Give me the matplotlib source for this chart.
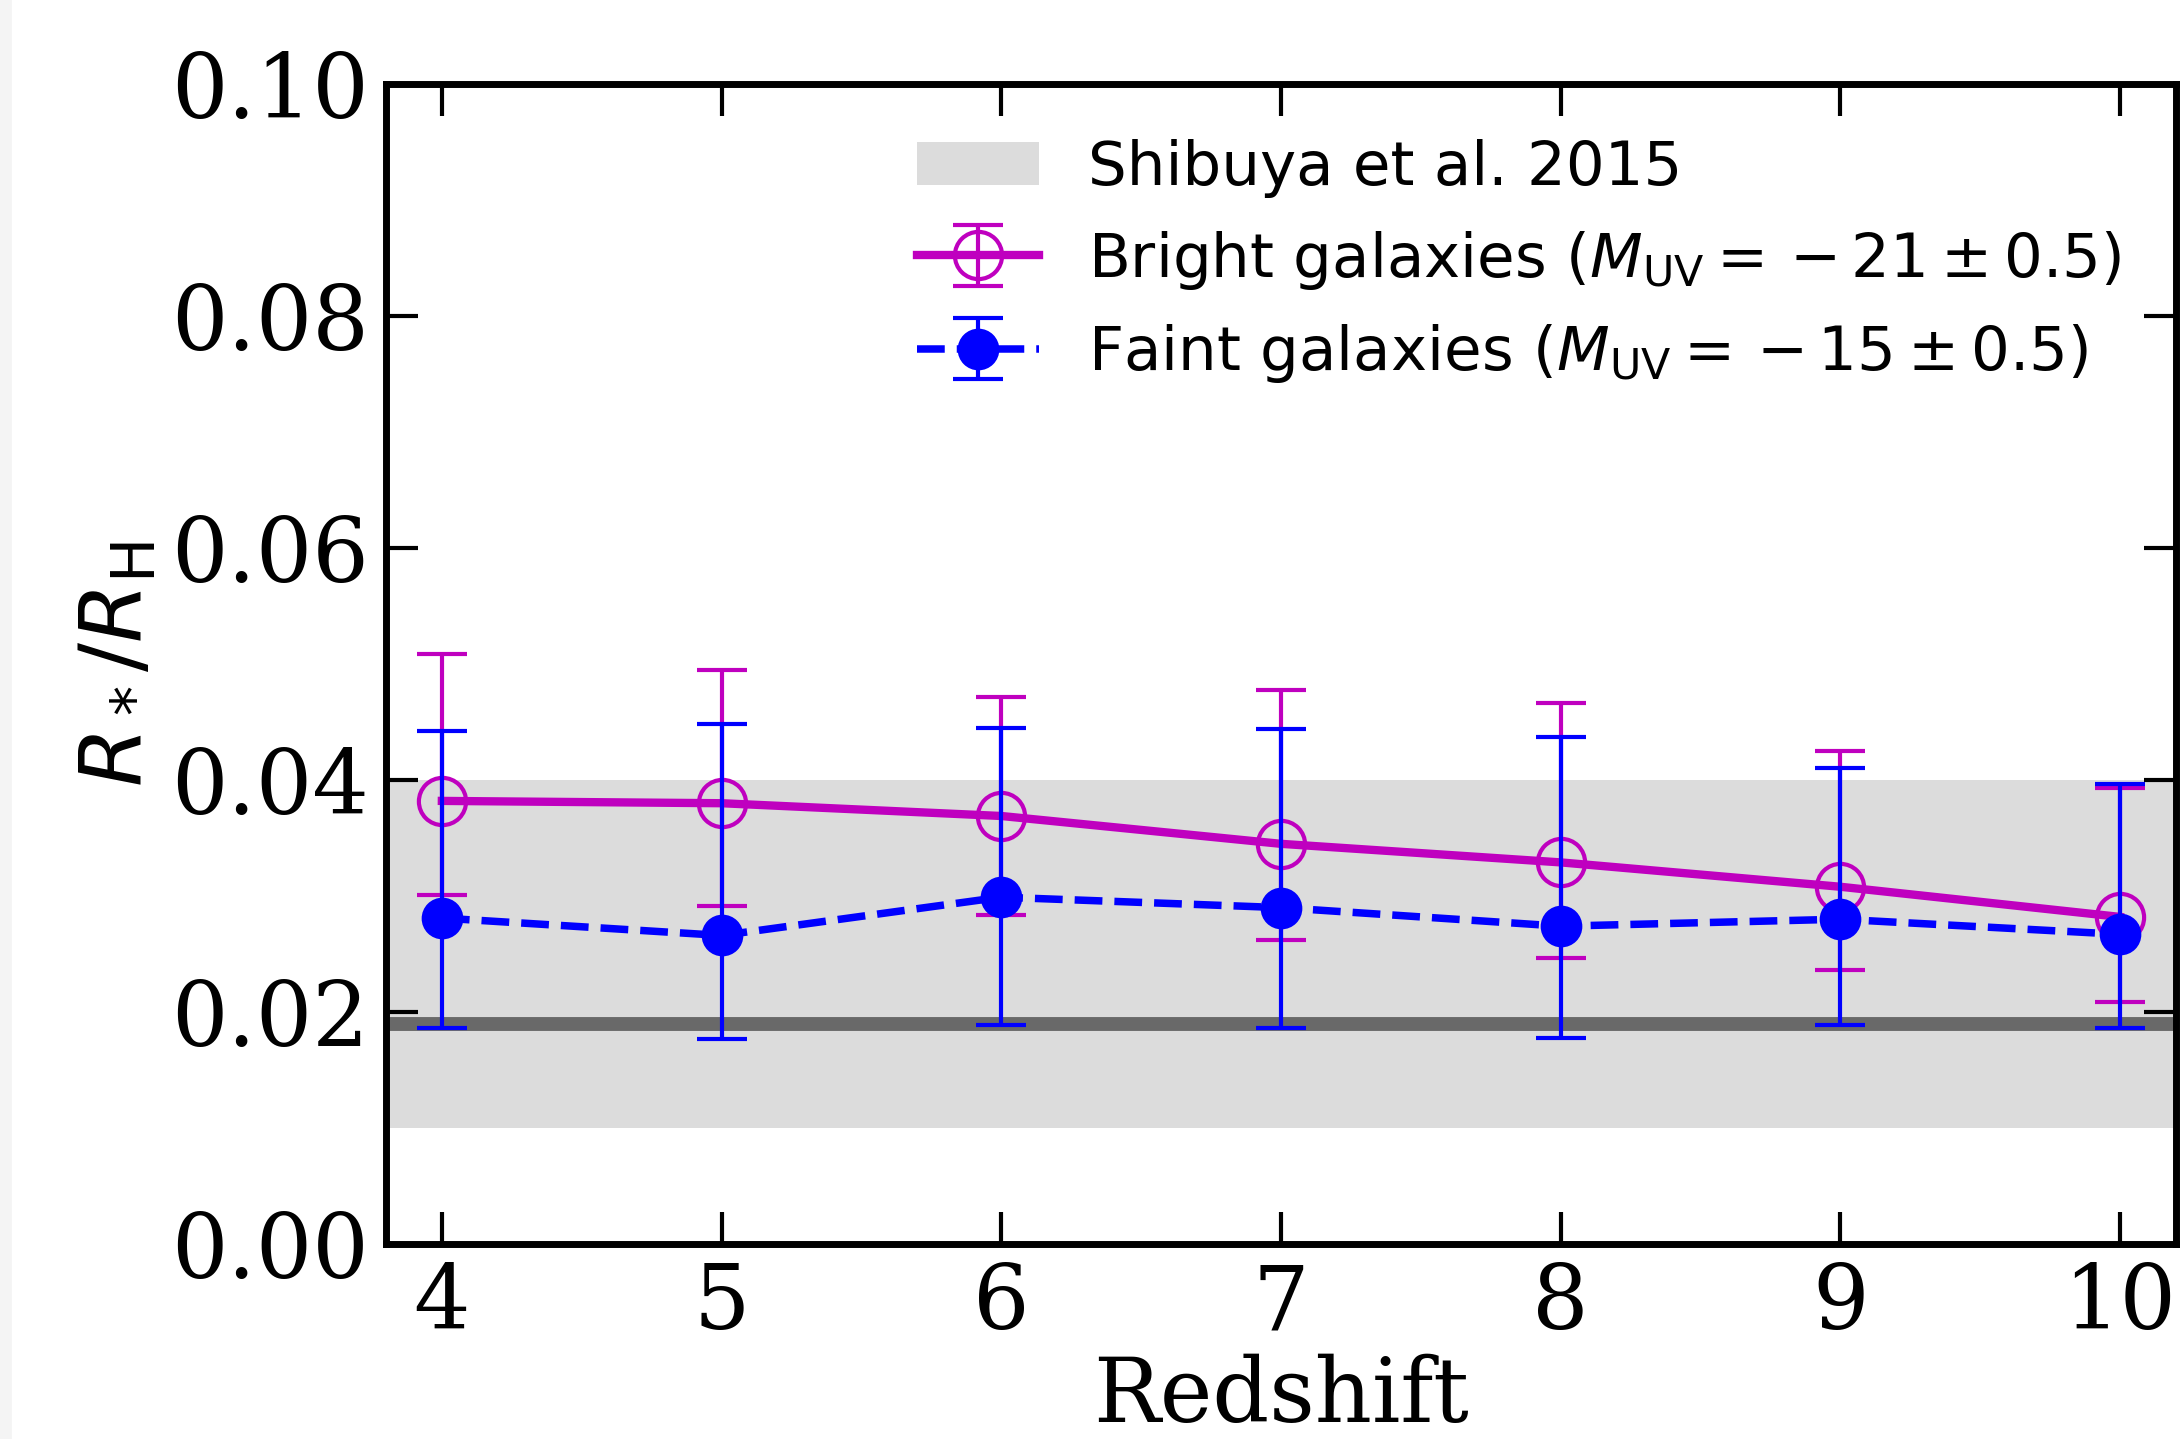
import matplotlib
matplotlib.use("Agg")
import matplotlib.pyplot as plt
from matplotlib.patches import Rectangle

# redshift bins
redshift = [4, 5, 6, 7, 8, 9, 10]

# bright galaxies (M_UV = -21 +/- 0.5)
bright_val = [0.0382, 0.0380, 0.0369, 0.0345, 0.0329, 0.0308, 0.0282]
bright_hi = [0.0509, 0.0495, 0.0472, 0.0478, 0.0466, 0.0425, 0.0393]
bright_lo = [0.0301, 0.0291, 0.0284, 0.0262, 0.0247, 0.0236, 0.0209]

# faint galaxies (M_UV = -15 +/- 0.5)
faint_val = [0.0281, 0.0266, 0.0299, 0.0290, 0.0274, 0.0280, 0.0267]
faint_hi = [0.0442, 0.0448, 0.0445, 0.0444, 0.0437, 0.0410, 0.0397]
faint_lo = [0.0186, 0.0177, 0.0189, 0.0186, 0.0178, 0.0189, 0.0186]

# Shibuya et al. 2015 range and median
shibuya_lo = 0.01
shibuya_hi = 0.04
shibuya_mid = 0.019

bright_err = [[v - l for v, l in zip(bright_val, bright_lo)],
              [h - v for v, h in zip(bright_val, bright_hi)]]
faint_err = [[v - l for v, l in zip(faint_val, faint_lo)],
             [h - v for v, h in zip(faint_val, faint_hi)]]

fig = plt.figure(figsize=(10.92, 7.195), dpi=200)
fig.patches.append(Rectangle((0, 0), 0.0046, 1, transform=fig.transFigure,
                             color='#f4f4f4', zorder=-10))
ax = fig.add_axes([0.1767, 0.1355, 0.8196, 0.8061])

ax.axhspan(shibuya_lo, shibuya_hi, color='gainsboro', lw=0, zorder=0,
           label='Shibuya et al. 2015')
ax.axhline(shibuya_mid, color='dimgray', lw=5, zorder=1)

ax.errorbar(redshift, bright_val, yerr=bright_err, color='m', ls='-', lw=3,
            marker='o', ms=17, mfc='none', mec='m', mew=1.5,
            elinewidth=1.5, capsize=9, capthick=1.5, zorder=3,
            label=r'Bright galaxies ($M_{\rm UV}=\,{-}\,21\pm0.5$)')
ax.errorbar(redshift, faint_val, yerr=faint_err, color='b', ls='--', lw=2.7,
            marker='o', ms=14, mfc='b', mec='b',
            elinewidth=1.5, capsize=9, capthick=1.5, zorder=4,
            label=r'Faint galaxies ($M_{\rm UV}=\,{-}\,15\pm0.5$)')

ax.set_xlim(3.8, 10.2)
ax.set_ylim(0, 0.1)
ax.set_xticks(redshift)
ax.set_yticks([0.0, 0.02, 0.04, 0.06, 0.08, 0.10])
ax.set_yticklabels(['0.00', '0.02', '0.04', '0.06', '0.08', '0.10'])

ax.tick_params(direction='in', length=11.5, width=1.5, top=True, right=True,
               labelsize=32, pad=6)
for lab in ax.get_xticklabels() + ax.get_yticklabels():
    lab.set_family('DejaVu Serif')
for sp in ax.spines.values():
    sp.set_linewidth(2.5)

ax.set_xlabel('Redshift', fontsize=32, family='DejaVu Serif', labelpad=2)
ax.set_ylabel(r'$R_*/R_{\rm H}$', fontsize=31, labelpad=4)

ax.legend(loc='upper right', frameon=False, fontsize=22)

fig.savefig('out.png', dpi=200)
